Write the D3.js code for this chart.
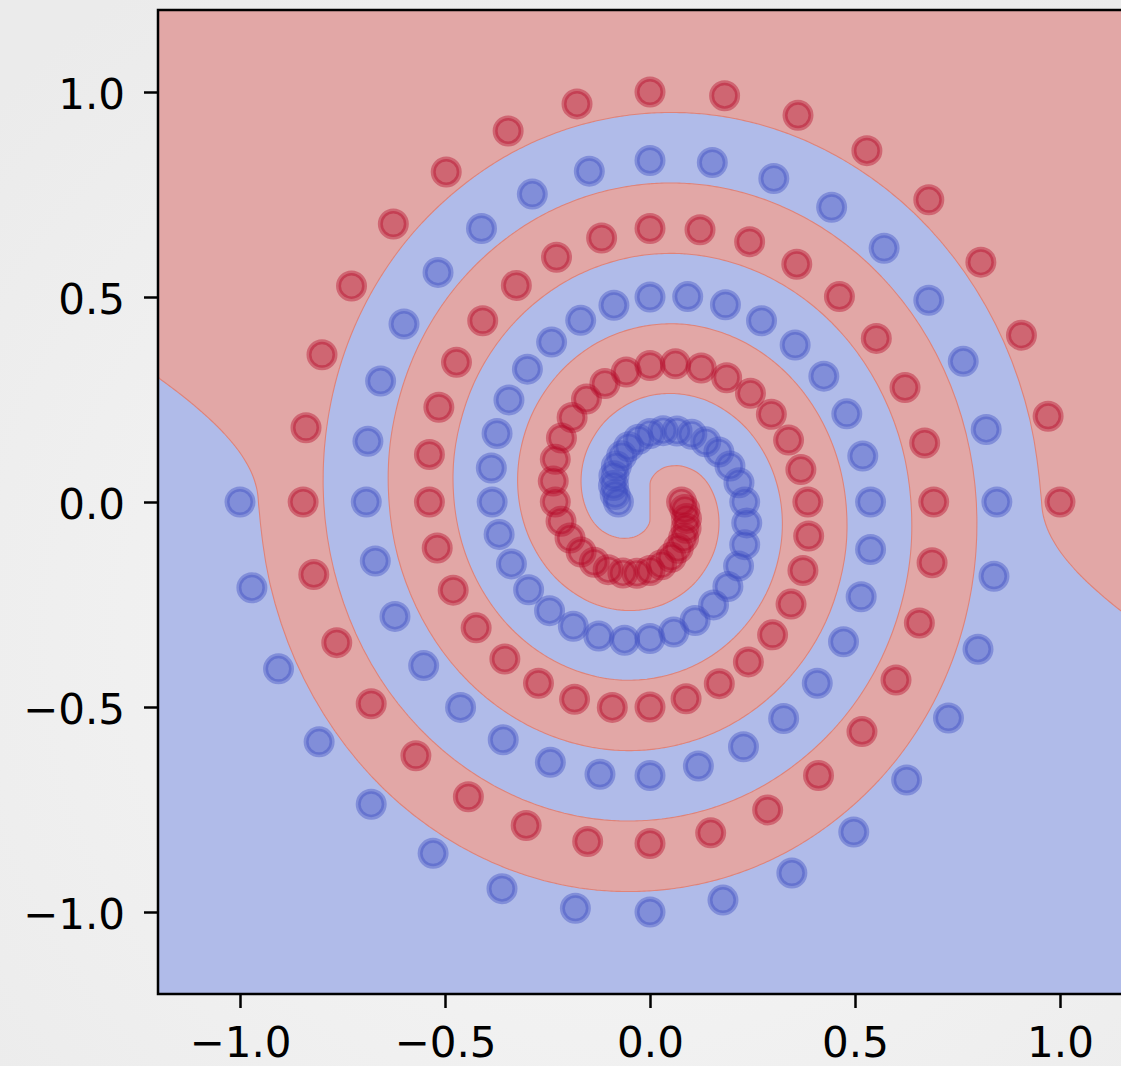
<!DOCTYPE html>
<html><head><meta charset="utf-8">
<script src="https://cdn.jsdelivr.net/npm/d3@7"></script>
<style>html,body{margin:0;padding:0;overflow:hidden;background:#f1f1f1}</style>
</head><body><svg id="c" width="1121" height="1066"></svg>
<script>
// ---- data ----
const redX = [1.000,0.971,0.906,0.807,0.680,0.529,0.361,0.182,0.000,-0.178,-0.346,-0.497,-0.626,-0.728,-0.800,-0.839,-0.846,-0.820,-0.764,-0.680,-0.571,-0.443,-0.302,-0.152,0.000,0.148,0.287,0.411,0.517,0.600,0.657,0.688,0.692,0.670,0.622,0.552,0.462,0.358,0.243,0.122,0.000,-0.118,-0.228,-0.326,-0.408,-0.472,-0.515,-0.538,-0.538,-0.519,-0.480,-0.424,-0.354,-0.272,-0.184,-0.092,0.000,0.088,0.169,0.240,0.299,0.344,0.373,0.387,0.385,0.368,0.338,0.296,0.245,0.187,0.125,0.062,0.000,-0.058,-0.110,-0.155,-0.190,-0.216,-0.231,-0.236,-0.231,-0.217,-0.195,-0.168,-0.136,-0.102,-0.066,-0.032,0.000,0.028,0.052,0.069,0.082,0.088,0.089,0.085,0.077];
const redY = [0.000,0.209,0.407,0.585,0.737,0.857,0.943,0.991,1.000,0.971,0.905,0.805,0.678,0.527,0.359,0.181,0.000,-0.177,-0.343,-0.492,-0.619,-0.719,-0.789,-0.828,-0.833,-0.807,-0.751,-0.667,-0.560,-0.434,-0.295,-0.148,0.000,0.144,0.279,0.399,0.501,0.580,0.635,0.664,0.667,0.644,0.597,0.528,0.442,0.341,0.231,0.116,0.000,-0.112,-0.215,-0.307,-0.383,-0.442,-0.481,-0.501,-0.500,-0.480,-0.443,-0.390,-0.324,-0.249,-0.167,-0.083,0.000,0.079,0.151,0.214,0.265,0.303,0.327,0.337,0.333,0.317,0.289,0.251,0.206,0.156,0.104,0.051,0.000,-0.047,-0.088,-0.122,-0.147,-0.165,-0.173,-0.174,-0.167,-0.153,-0.135,-0.113,-0.088,-0.064,-0.040,-0.018,0.000];
const blueX = [-1.000,-0.971,-0.906,-0.807,-0.680,-0.529,-0.361,-0.182,0.000,0.178,0.346,0.497,0.626,0.728,0.800,0.839,0.846,0.820,0.764,0.680,0.571,0.443,0.302,0.152,0.000,-0.148,-0.287,-0.411,-0.517,-0.600,-0.657,-0.688,-0.692,-0.670,-0.622,-0.552,-0.462,-0.358,-0.243,-0.122,0.000,0.118,0.228,0.326,0.408,0.472,0.515,0.538,0.538,0.519,0.480,0.424,0.354,0.272,0.184,0.092,0.000,-0.088,-0.169,-0.240,-0.299,-0.344,-0.373,-0.387,-0.385,-0.368,-0.338,-0.296,-0.245,-0.187,-0.125,-0.062,0.000,0.058,0.110,0.155,0.190,0.216,0.231,0.236,0.231,0.217,0.195,0.168,0.136,0.102,0.066,0.032,0.000,-0.028,-0.052,-0.069,-0.082,-0.088,-0.089,-0.085,-0.077];
const blueY = [0.000,-0.209,-0.407,-0.585,-0.737,-0.857,-0.943,-0.991,-1.000,-0.971,-0.905,-0.805,-0.678,-0.527,-0.359,-0.181,0.000,0.177,0.343,0.492,0.619,0.719,0.789,0.828,0.833,0.807,0.751,0.667,0.560,0.434,0.295,0.148,0.000,-0.144,-0.279,-0.399,-0.501,-0.580,-0.635,-0.664,-0.667,-0.644,-0.597,-0.528,-0.442,-0.341,-0.231,-0.116,0.000,0.112,0.215,0.307,0.383,0.442,0.481,0.501,0.500,0.480,0.443,0.390,0.324,0.249,0.167,0.083,0.000,-0.079,-0.151,-0.214,-0.265,-0.303,-0.327,-0.337,-0.333,-0.317,-0.289,-0.251,-0.206,-0.156,-0.104,-0.051,0.000,0.047,0.088,0.122,0.147,0.165,0.173,0.174,0.167,0.153,0.135,0.113,0.088,0.064,0.040,0.018,0.000];
const xTicks = [-1.0,-0.5,0.0,0.5,1.0];
const yTicks = [-1.0,-0.5,0.0,0.5,1.0];
const xDomain = [-1.2,1.2];
const yDomain = [-1.2,1.2];

// ---- layout ----
const svg = d3.select('#c');
const x = d3.scaleLinear().domain(xDomain).range([158,1142]);
const y = d3.scaleLinear().domain(yDomain).range([994,10]);
const defs = svg.append('defs');
const bg = defs.append('radialGradient').attr('id','bg').attr('cx','0.55').attr('cy','0.6').attr('r','0.75');
bg.append('stop').attr('offset','0').attr('stop-color','#f7f7f7');
bg.append('stop').attr('offset','1').attr('stop-color','#ebebeb');
svg.append('rect').attr('width',1121).attr('height',1066).attr('fill','url(#bg)');
defs.append('clipPath').attr('id','clip').append('rect')
  .attr('x',x(xDomain[0])).attr('y',y(yDomain[1]))
  .attr('width',x(xDomain[1])-x(xDomain[0])).attr('height',y(yDomain[0])-y(yDomain[1]));

const plot = svg.append('g').attr('clip-path','url(#clip)');
plot.append('rect').attr('x',x(xDomain[0])).attr('y',y(yDomain[1]))
  .attr('width',x(xDomain[1])-x(xDomain[0])).attr('height',y(yDomain[0])-y(yDomain[1]))
  .attr('fill','#b0bbe9');

// ---- decision region: the nearer (smoothed) spiral curve wins ----
function smoothSegs(xs,ys,sub){
  const n=xs.length, P=i=>[xs[Math.max(0,Math.min(n-1,i))],ys[Math.max(0,Math.min(n-1,i))]];
  const pts=[];
  for(let i=0;i<n-1;i++){
    const p0=P(i-1),p1=P(i),p2=P(i+1),p3=P(i+2);
    for(let k=0;k<sub;k++){
      const t=k/sub,t2=t*t,t3=t2*t;
      const f=c=>0.5*(2*p1[c]+(-p0[c]+p2[c])*t+(2*p0[c]-5*p1[c]+4*p2[c]-p3[c])*t2+(-p0[c]+3*p1[c]-3*p2[c]+p3[c])*t3);
      pts.push([f(0),f(1)]);
    }
  }
  pts.push(P(n-1));
  const S=[];
  for(let i=0;i<pts.length-1;i++){
    const [ax,ay]=pts[i],[bx,by]=pts[i+1],dx=bx-ax,dy=by-ay;
    S.push([ax,ay,dx,dy,1/(dx*dx+dy*dy||1e-12)]);
  }
  return S;
}
const redSegs = smoothSegs(redX,redY,4), blueSegs = smoothSegs(blueX,blueY,4);
function dist(px,py,S){
  let best=Infinity;
  for(let i=0;i<S.length;i++){
    const s_=S[i], ax=s_[0], ay=s_[1], dx=s_[2], dy=s_[3];
    let t=((px-ax)*dx+(py-ay)*dy)*s_[4];
    t=t<0?0:t>1?1:t;
    const ex=ax+t*dx-px, ey=ay+t*dy-py;
    const d=ex*ex+ey*ey; if(d<best)best=d;
  }
  return Math.sqrt(best);
}
const step=2.5, s=1.035;
const x0=x(xDomain[0]), y0=y(yDomain[1]);
const nx=Math.ceil((x(xDomain[1])-x0)/step), ny=Math.ceil((y(yDomain[0])-y0)/step);
const vals=new Float64Array(nx*ny);
for(let j=0;j<ny;j++){
  const dy_=y.invert(y0+(j+0.5)*step)/s;
  for(let i=0;i<nx;i++){
    const dx_=x.invert(x0+(i+0.5)*step)/s;
    vals[j*nx+i]=dist(dx_,dy_,blueSegs)-dist(dx_,dy_,redSegs);
  }
}
const cont = d3.contours().size([nx,ny]).thresholds([0])(vals);
const proj = d3.geoTransform({point(cx,cy){this.stream.point(x0+cx*step, y0+cy*step);}});
plot.append('path').datum(cont[0]).attr('d',d3.geoPath(proj))
  .attr('fill','#e2a7a6').attr('stroke','#df8379').attr('stroke-width',1.1);

// ---- points ----
const pts = redX.map((v,i)=>({x:v,y:redY[i],c:'#b40426'}))
  .concat(blueX.map((v,i)=>({x:v,y:blueY[i],c:'#3b4cc0'})));
plot.selectAll('circle.pt').data(pts).join('circle').attr('class','pt')
  .attr('cx',d=>x(d.x)).attr('cy',d=>y(d.y)).attr('r',13)
  .attr('fill',d=>d.c).attr('fill-opacity',0.4)
  .attr('stroke',d=>d.c).attr('stroke-opacity',0.4).attr('stroke-width',5);

// ---- axes ----
const fmt = d3.format('.1f');
const font = '"DejaVu Sans", sans-serif';
const gx = svg.append('g').attr('transform',`translate(0,${y(yDomain[0])})`)
  .call(d3.axisBottom(x).tickValues(xTicks).tickFormat(fmt).tickSize(14).tickSizeOuter(0).tickPadding(19));
const gy = svg.append('g').attr('transform',`translate(${x(xDomain[0])},0)`)
  .call(d3.axisLeft(y).tickValues(yTicks).tickFormat(fmt).tickSize(14).tickSizeOuter(0).tickPadding(19));
[gx,gy].forEach(g=>{
  g.selectAll('.domain').remove();
  g.selectAll('.tick line').attr('stroke','#000').attr('stroke-width',2.5);
  g.selectAll('.tick text').attr('fill','#000').style('font-family',font).style('font-size','42px');
});
gy.selectAll('.tick text').attr('dy','0.4em');
// spines
svg.append('rect').attr('x',x(xDomain[0])).attr('y',y(yDomain[1]))
  .attr('width',x(xDomain[1])-x(xDomain[0])).attr('height',y(yDomain[0])-y(yDomain[1]))
  .attr('fill','none').attr('stroke','#000').attr('stroke-width',2.5);
</script></body></html>
